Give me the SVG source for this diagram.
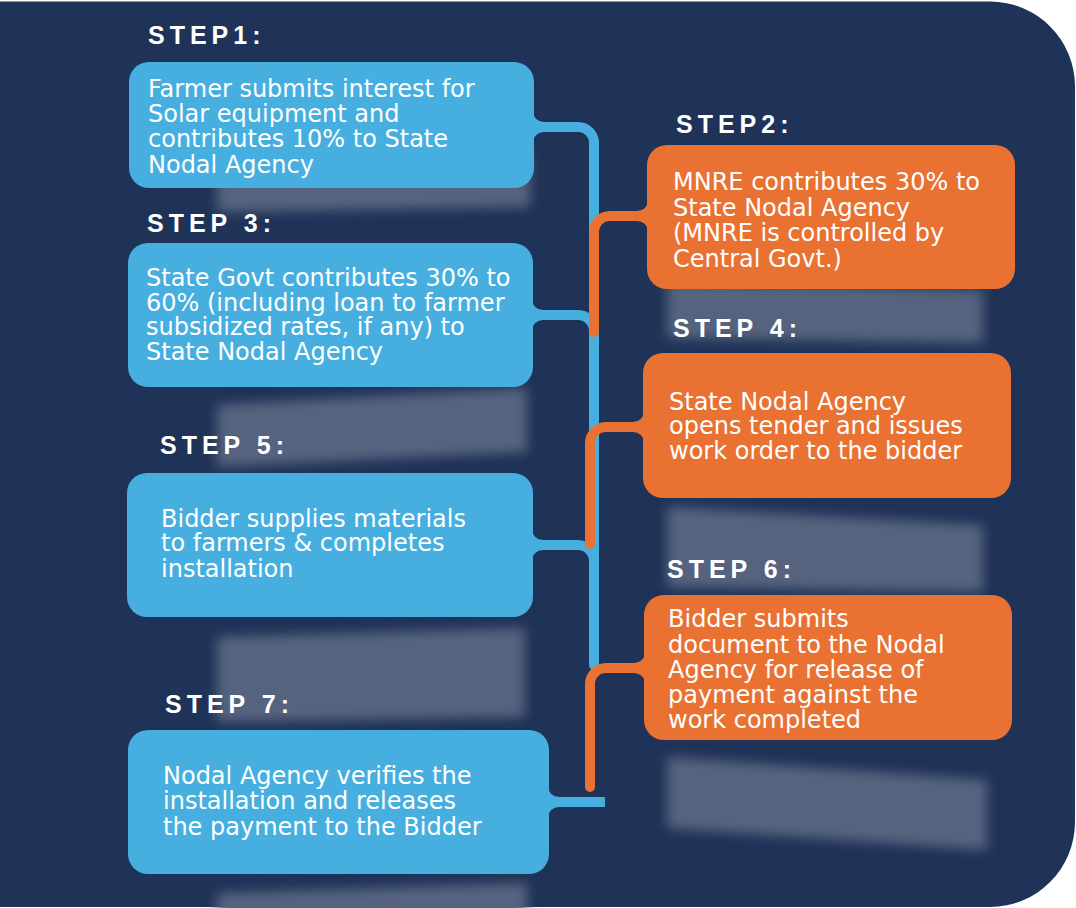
<svg xmlns="http://www.w3.org/2000/svg" width="1076" height="908" viewBox="0 0 1076 908">
<defs>
<filter id="soft" x="-10%" y="-40%" width="120%" height="180%"><feGaussianBlur stdDeviation="6"/></filter>
<style>
.bg{fill:#1f3257}
.shadow{fill:#57647f}
.blue{fill:#46afe0}
.orange{fill:#e97132}
.lb{stroke:#46afe0;stroke-width:10;fill:none;stroke-linecap:round}
.lbs{stroke:#46afe0;stroke-width:10;fill:none;stroke-linecap:butt}
.lo{stroke:#e97132;stroke-width:10;fill:none;stroke-linecap:round}
.label{font-family:"Liberation Sans",Arial,sans-serif;font-weight:bold;font-size:25px;letter-spacing:5px;fill:#ffffff}
.body{font-family:"DejaVu Sans",sans-serif;font-size:24px;fill:#ffffff}
</style>
</defs>
<rect width="1076" height="908" fill="#ffffff"/>
<path class="bg" d="M0,1.5 H990 A85,85 0 0 1 1075,86.5 V822 A85,85 0 0 1 990,907 H0 Z"/>
<g id="shadows" filter="url(#soft)">
<polygon class="shadow" points="217,160 530,150 530,207 217,212"/>
<polygon class="shadow" points="667,280 983,290 983,343 667,338"/>
<polygon class="shadow" points="217,405 527,388 527,452 217,467"/>
<polygon class="shadow" points="667,507 983,525 983,592 667,587"/>
<polygon class="shadow" points="217,637 525,628 525,717 217,722"/>
<polygon class="shadow" points="667,757 987,780 987,850 667,828"/>
<polygon class="shadow" points="217,893 527,883 527,940 217,940"/>
</g>
<g id="connectors">
<path class="lb" d="M520,127 H578 A16,16 0 0 1 594,143 V665"/>
<path class="lb" d="M520,315 H578 A16,16 0 0 1 594,331"/>
<path class="lb" d="M520,545 H578 A16,16 0 0 1 594,561"/>
<path class="lbs" d="M540,802 H605"/>
<path class="lo" d="M660,216 H610 A16,16 0 0 0 594,232 V332"/>
<path class="lo" d="M655,427 H606 A16,16 0 0 0 590,443 V544"/>
<path class="lo" d="M655,668 H606 A16,16 0 0 0 590,684 V787"/>
</g>
<g id="step1">
<text class="label" x="148" y="44">STEP1:</text>
<rect class="blue" x="129" y="62" width="405" height="126" rx="20"/>
<path class="blue" d="M533,111 A11,11 0 0 0 545,122 V132 A11,11 0 0 0 533,143 Z"/>
<text class="body" x="148" y="97">Farmer submits interest for</text>
<text class="body" x="148" y="122">Solar equipment and</text>
<text class="body" x="148" y="147">contributes 10% to State</text>
<text class="body" x="148" y="173">Nodal Agency</text>
</g>
<g id="step2">
<text class="label" x="676" y="133">STEP2:</text>
<rect class="orange" x="647" y="145" width="368" height="144" rx="20"/>
<path class="orange" d="M648,200 A11,11 0 0 1 636,211 V221 A11,11 0 0 1 648,232 Z"/>
<text class="body" x="673" y="190">MNRE contributes 30% to</text>
<text class="body" x="673" y="216">State Nodal Agency</text>
<text class="body" x="673" y="241">(MNRE is controlled by</text>
<text class="body" x="673" y="267">Central Govt.)</text>
</g>
<g id="step3">
<text class="label" x="147" y="232">STEP 3:</text>
<rect class="blue" x="128" y="243" width="405" height="144" rx="20"/>
<path class="blue" d="M532,299 A11,11 0 0 0 544,310 V320 A11,11 0 0 0 532,331 Z"/>
<text class="body" x="146" y="286">State Govt contributes 30% to</text>
<text class="body" x="146" y="311">60% (including loan to farmer</text>
<text class="body" x="146" y="335">subsidized rates, if any) to</text>
<text class="body" x="146" y="360">State Nodal Agency</text>
</g>
<g id="step4">
<text class="label" x="673" y="337">STEP 4:</text>
<rect class="orange" x="643" y="353" width="368" height="145" rx="20"/>
<path class="orange" d="M644,411 A11,11 0 0 1 632,422 V432 A11,11 0 0 1 644,443 Z"/>
<text class="body" x="669" y="410">State Nodal Agency</text>
<text class="body" x="669" y="434">opens tender and issues</text>
<text class="body" x="669" y="459">work order to the bidder</text>
</g>
<g id="step5">
<text class="label" x="160" y="454">STEP 5:</text>
<rect class="blue" x="127" y="473" width="406" height="144" rx="20"/>
<path class="blue" d="M532,529 A11,11 0 0 0 544,540 V550 A11,11 0 0 0 532,561 Z"/>
<text class="body" x="161" y="527">Bidder supplies materials</text>
<text class="body" x="161" y="551">to farmers &amp; completes</text>
<text class="body" x="161" y="577">installation</text>
</g>
<g id="step6">
<text class="label" x="667" y="578">STEP 6:</text>
<rect class="orange" x="644" y="595" width="368" height="145" rx="20"/>
<path class="orange" d="M645,652 A11,11 0 0 1 633,663 V673 A11,11 0 0 1 645,684 Z"/>
<text class="body" x="668" y="627">Bidder submits</text>
<text class="body" x="668" y="653">document to the Nodal</text>
<text class="body" x="668" y="678">Agency for release of</text>
<text class="body" x="668" y="703">payment against the</text>
<text class="body" x="668" y="728">work completed</text>
</g>
<g id="step7">
<text class="label" x="165" y="713">STEP 7:</text>
<rect class="blue" x="128" y="730" width="421" height="144" rx="20"/>
<path class="blue" d="M548,786 A11,11 0 0 0 560,797 V807 A11,11 0 0 0 548,818 Z"/>
<text class="body" x="163" y="784">Nodal Agency verifies the</text>
<text class="body" x="163" y="809">installation and releases</text>
<text class="body" x="163" y="835">the payment to the Bidder</text>
</g>
</svg>
